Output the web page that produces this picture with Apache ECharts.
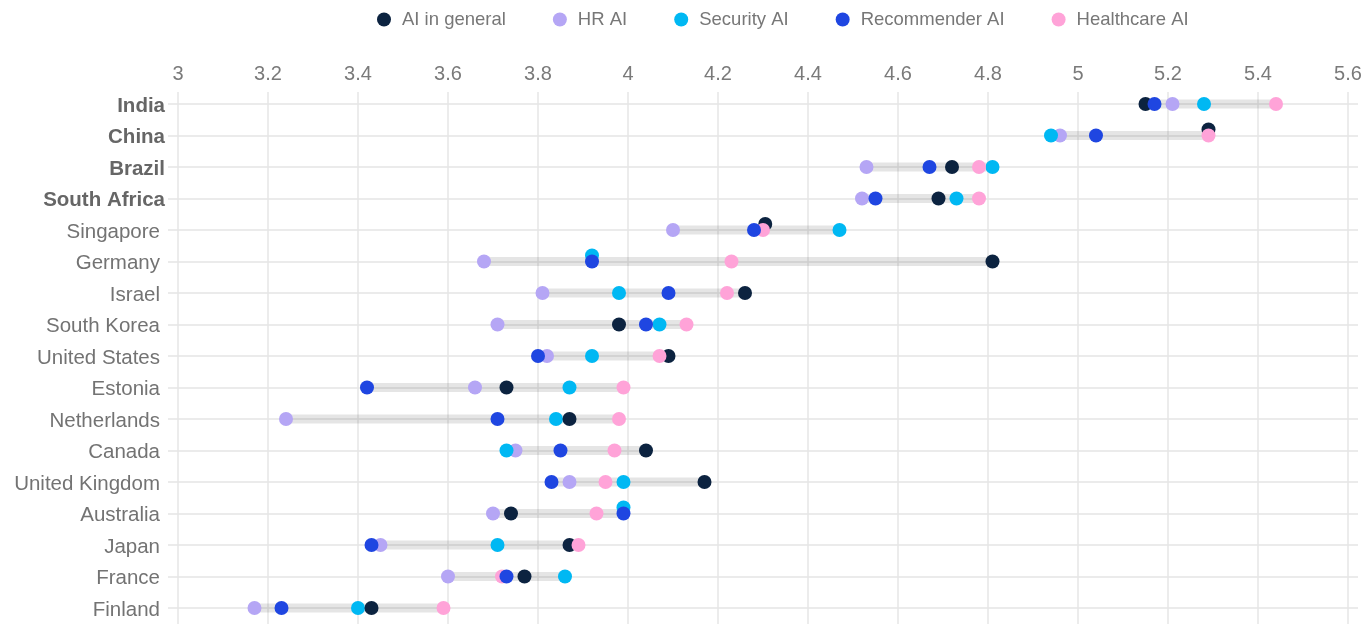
<!DOCTYPE html>
<html>
<head>
<meta charset="utf-8">
<script src="https://cdn.jsdelivr.net/npm/echarts@6/dist/echarts.min.js"></script>
<style>html,body{margin:0;padding:0;background:#fff}#c{width:1367px;height:624px}</style>
</head>
<body>
<div id="c"></div>
<script>
const countries = ["India","China","Brazil","South Africa","Singapore","Germany","Israel","South Korea","United States","Estonia","Netherlands","Canada","United Kingdom","Australia","Japan","France","Finland"];
const highlighted = ["India","China","Brazil","South Africa"];
const aiGeneral     = [5.15, 5.29, 4.72, 4.69, 4.305, 4.81, 4.26, 3.98, 4.09, 3.73, 3.87, 4.04, 4.17, 3.74, 3.87, 3.77, 3.43];
const hrAI          = [5.21, 4.96, 4.53, 4.52, 4.10, 3.68, 3.81, 3.71, 3.82, 3.66, 3.24, 3.75, 3.87, 3.70, 3.45, 3.60, 3.17];
const securityAI    = [5.28, 4.94, 4.81, 4.73, 4.47, 3.92, 3.98, 4.07, 3.92, 3.87, 3.84, 3.73, 3.99, 3.99, 3.71, 3.86, 3.40];
const recommenderAI = [5.17, 5.04, 4.67, 4.55, 4.28, 3.92, 4.09, 4.04, 3.80, 3.42, 3.71, 3.85, 3.83, 3.99, 3.43, 3.73, 3.23];
const healthcareAI  = [5.44, 5.29, 4.78, 4.78, 4.30, 4.23, 4.22, 4.13, 4.07, 3.99, 3.98, 3.97, 3.95, 3.93, 3.89, 3.72, 3.59];
const legendOrder = ["AI in general","HR AI","Security AI","Recommender AI","Healthcare AI"];

const drawOrder = [
  ["HR AI", hrAI, "#b5a6f5"],
  ["Security AI", securityAI, "#00b8f3"],
  ["AI in general", aiGeneral, "#0c2340"],
  ["Healthcare AI", healthcareAI, "#ffa3d8"],
  ["Recommender AI", recommenderAI, "#1f46e1"]
];

const ranges = countries.map((c, i) => {
  const vals = drawOrder.map(s => s[1][i]);
  return [Math.min(...vals), Math.max(...vals), i];
});

const pointSeries = drawOrder.map((s, k) => ({
  name: s[0],
  type: 'scatter',
  xAxisIndex: 1, yAxisIndex: 1,
  symbol: 'circle',
  symbolSize: 14,
  itemStyle: { color: s[2], opacity: 1 },
  emphasis: { disabled: true },
  data: countries.map((c, i) => {
    const tie = drawOrder.slice(k + 1).some(o => Math.abs(o[1][i] - s[1][i]) < 0.008);
    const d = { value: [s[1][i], i] };
    if (tie) d.symbolOffset = [0, -6];
    return d;
  })
}));

const chart = echarts.init(document.getElementById('c'), null, { renderer: 'canvas' });
chart.setOption({
  animation: false,
  textStyle: { fontFamily: 'Liberation Sans' },
  legend: {
    data: legendOrder,
    top: 5, left: 372,
    icon: 'circle',
    itemWidth: 26, itemHeight: 14, itemGap: 47,
    textStyle: { fontSize: 18.5, color: '#777777', fontFamily: 'Liberation Sans' }
  },
  grid: [
    { left: 178, right: 19, top: 92, bottom: 0 },
    { left: 168, right: 9, top: 104, bottom: 16 }
  ],
  xAxis: [
    { gridIndex: 0, type: 'value', min: 3, max: 5.6, interval: 0.2, position: 'top',
      axisLine: { show: false }, axisTick: { show: false },
      axisLabel: { fontSize: 20, color: '#7a7a7a', margin: 8, formatter: v => String(+v.toFixed(1)) },
      splitLine: { show: true, lineStyle: { color: '#e6e6e6', width: 1.5 } } },
    { gridIndex: 1, type: 'value', min: 3 - 10 / 450, max: 5.6 + 10 / 450, show: false, splitLine: { show: false } }
  ],
  yAxis: [
    { gridIndex: 0, type: 'value', min: 0, max: 1, show: false, splitLine: { show: false } },
    { gridIndex: 1, type: 'category', data: countries, inverse: true, boundaryGap: false,
      axisLine: { show: false }, axisTick: { show: false },
      axisLabel: {
        interval: 0, margin: 3, fontSize: 20, color: '#737373',
        formatter: v => highlighted.includes(v) ? '{b|' + v + '}' : '{n|' + v + '}',
        rich: {
          b: { fontSize: 20.5, fontWeight: 'bold', color: '#666666', fontFamily: 'Liberation Sans', padding: [4, 0, 0, 0] },
          n: { fontSize: 20.5, color: '#737373', fontFamily: 'Liberation Sans', padding: [4, 5, 0, 0] }
        }
      },
      splitLine: { show: true, interval: 0, lineStyle: { color: '#ebebeb', width: 2 } } }
  ],
  series: [
    {
      type: 'custom', xAxisIndex: 1, yAxisIndex: 1, silent: true,
      encode: { x: [0, 1], y: 2 },
      data: ranges,
      renderItem: (params, api) => {
        const y = api.value(2);
        const p1 = api.coord([api.value(0), y]);
        const p2 = api.coord([api.value(1), y]);
        return { type: 'rect', shape: { x: p1[0], y: p1[1] - 4.5, width: p2[0] - p1[0], height: 9 },
                 style: { fill: 'rgba(0,0,0,0.1)' } };
      }
    },
    ...pointSeries
  ]
});
</script>
</body>
</html>
